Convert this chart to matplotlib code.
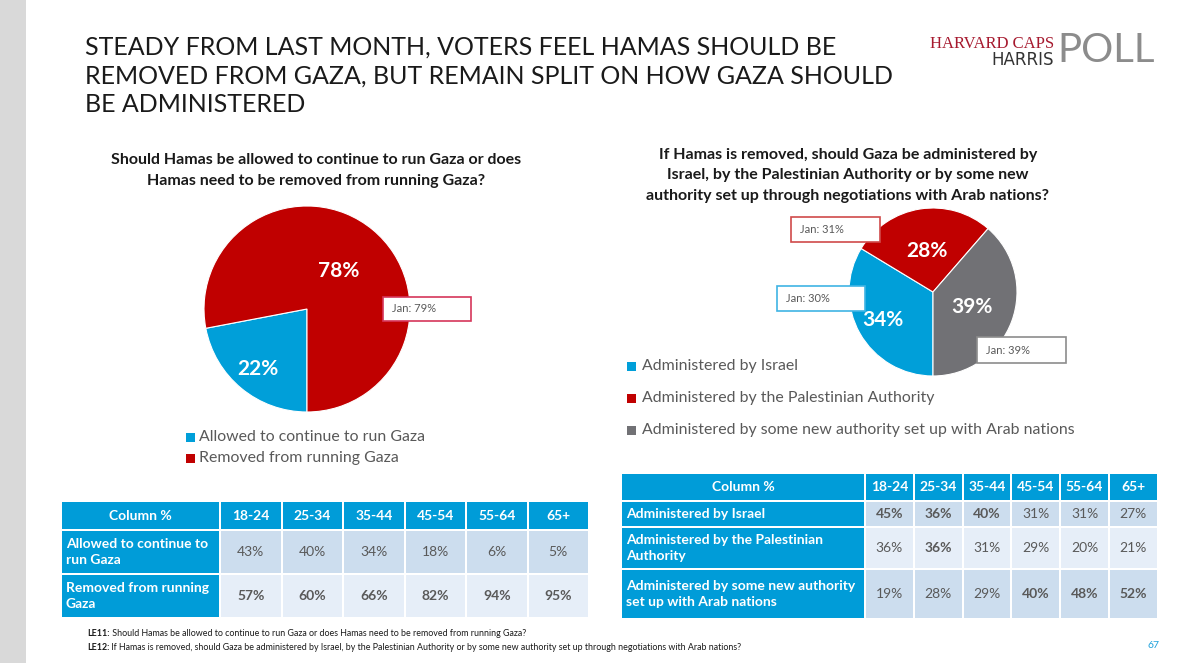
import matplotlib.pyplot as plt
from matplotlib.patches import Rectangle
import numpy as np

plt.rcParams['font.family'] = ['Lato', 'DejaVu Sans']

W, H = 1180, 663

RED = '#C00000'
BLUE = '#009FD9'
GRAY = '#717175'
HEAD = '#009CD8'
DARK_CELL = '#CCDDEE'
LIGHT_CELL = '#E6EEF8'
TXT = '#595959'

# pie data
hamas_labels = ['Allowed to continue to run Gaza', 'Removed from running Gaza']
hamas_pct = [22, 78]
hamas_jan = [None, 79]

admin_labels = ['Administered by Israel',
                'Administered by the Palestinian Authority',
                'Administered by some new authority set up with Arab nations']
admin_pct = [34, 28, 39]
admin_jan = [30, 31, 39]

# table data
ages = ['18-24', '25-34', '35-44', '45-54', '55-64', '65+']
hamas_rows = ['Allowed to continue to\nrun Gaza', 'Removed from running\nGaza']
hamas_by_age = [[43, 40, 34, 18, 6, 5],
                [57, 60, 66, 82, 94, 95]]
hamas_bold = [[0, 0, 0, 0, 0, 0],
              [1, 1, 1, 1, 1, 1]]
admin_rows = ['Administered by Israel',
              'Administered by the Palestinian\nAuthority',
              'Administered by some new authority\nset up with Arab nations']
admin_by_age = [[45, 36, 40, 31, 31, 27],
                [36, 36, 31, 29, 20, 21],
                [19, 28, 29, 40, 48, 52]]
admin_bold = [[1, 1, 1, 0, 0, 0],
              [0, 1, 0, 0, 0, 0],
              [0, 0, 0, 1, 1, 1]]

fig = plt.figure(figsize=(W / 100, H / 100), dpi=100)
fig.patch.set_facecolor('white')

# background axes in pixel coordinates
bg = fig.add_axes([0, 0, 1, 1])
bg.set_xlim(0, W)
bg.set_ylim(H, 0)
bg.axis('off')

bg.add_patch(Rectangle((0, 0), 26, H, color='#D9D9D9', lw=0))

# title
title_lines = ['STEADY FROM LAST MONTH, VOTERS FEEL HAMAS SHOULD BE',
               'REMOVED FROM GAZA, BUT REMAIN SPLIT ON HOW GAZA SHOULD',
               'BE ADMINISTERED']
for i, line in enumerate(title_lines):
    bg.text(85, 55 + i * 28.7, line, fontsize=18, color='#1a1a1a',
            va='baseline', ha='left')

# logo
bg.text(1054, 48, 'HARVARD CAPS', family='Liberation Serif', fontsize=12,
        color='#A6192E', ha='right', va='baseline')
bg.text(1054, 65, 'HARRIS', family='DejaVu Sans', fontsize=12,
        color='#333333', ha='right', va='baseline')
bg.text(1057, 62, 'POLL', fontsize=29, color='#8C8C8C', ha='left',
        va='baseline')

# subtitles
sub_left = ['Should Hamas be allowed to continue to run Gaza or does',
            'Hamas need to be removed from running Gaza?']
sub_right = ['If Hamas is removed, should Gaza be administered by',
             'Israel, by the Palestinian Authority or by some new',
             'authority set up through negotiations with Arab nations?']
for i, line in enumerate(sub_left):
    bg.text(316, 160 + i * 21, line, fontsize=11.5, weight='bold',
            ha='center', va='center', color='#1a1a1a')
for i, line in enumerate(sub_right):
    bg.text(848, 155 + i * 20.5, line, fontsize=11.5, weight='bold',
            ha='center', va='center', color='#1a1a1a')


def draw_pie(cx, cy, r, values, colors, label_r):
    pad = 1.03
    ax = fig.add_axes([(cx - r * pad) / W, 1 - (cy + r * pad) / H,
                       2 * r * pad / W, 2 * r * pad / H])
    wedges, _ = ax.pie(values, colors=colors, startangle=270,
                       counterclock=False,
                       wedgeprops=dict(edgecolor='white', linewidth=0.8))
    ax.set_xlim(-pad, pad)
    ax.set_ylim(-pad, pad)
    for w, v, d in zip(wedges, values, label_r):
        a = np.deg2rad((w.theta1 + w.theta2) / 2)
        ax.text(d * np.cos(a), d * np.sin(a), f'{v}%', color='white',
                fontsize=15, weight='bold', ha='center', va='center')
    return ax


draw_pie(307, 309, 103, hamas_pct, [BLUE, RED], [0.75, 0.48])
draw_pie(933, 292, 84, admin_pct, [BLUE, RED, GRAY], [0.68, 0.49, 0.5])

# overlay axes for the callouts, drawn above the pies
fg = fig.add_axes([0, 0, 1, 1])
fg.set_xlim(0, W)
fg.set_ylim(H, 0)
fg.axis('off')
fg.patch.set_alpha(0)


def jan_box(x, y, w, h, val, edge):
    fg.add_patch(Rectangle((x, y), w, h, facecolor='white', edgecolor=edge,
                           lw=1.2))
    fg.text(x + 9, y + h / 2, f'Jan: {val}%', fontsize=8, color=TXT,
            va='center', ha='left')


jan_box(383, 297, 88, 24, hamas_jan[1], '#D6365A')
jan_box(791, 217, 89, 25, admin_jan[1], '#D04A4A')
jan_box(777, 286, 88, 25, admin_jan[0], '#3FB4E4')
jan_box(977, 337, 89, 26, admin_jan[2], '#8C8C8C')

# legends
for i, (lab, col) in enumerate(zip(hamas_labels, [BLUE, RED])):
    y = 437 + i * 21
    bg.add_patch(Rectangle((186, y - 4.5), 9, 9, color=col, lw=0))
    bg.text(199, y, lab, fontsize=11.4, color=TXT, va='center')
for i, (lab, col) in enumerate(zip(admin_labels, [BLUE, RED, GRAY])):
    y = 366 + i * 32
    bg.add_patch(Rectangle((627, y - 4.5), 9, 9, color=col, lw=0))
    bg.text(642, y, lab, fontsize=11.4, color=TXT, va='center')


def draw_table(x0, first_w, pitch, y0, heights, rows, values, bold, shades):
    gap = 2
    # header
    hh = heights[0]
    bg.add_patch(Rectangle((x0, y0), first_w, hh, color=HEAD, lw=0))
    bg.text(x0 + first_w / 2, y0 + hh / 2, 'Column %', color='white',
            fontsize=10, weight='bold', ha='center', va='center')
    xs = [x0 + first_w + gap + j * pitch for j in range(len(ages))]
    for x, a in zip(xs, ages):
        bg.add_patch(Rectangle((x, y0), pitch - gap, hh, color=HEAD, lw=0))
        bg.text(x + (pitch - gap) / 2, y0 + hh / 2, a, color='white',
                fontsize=10, weight='bold', ha='center', va='center')
    y = y0 + hh + gap
    for i, rh in enumerate(heights[1:]):
        bg.add_patch(Rectangle((x0, y), first_w, rh, color=HEAD, lw=0))
        bg.text(x0 + 4, y + rh / 2, rows[i], color='white', fontsize=10,
                weight='bold', ha='left', va='center', linespacing=1.5)
        for j, x in enumerate(xs):
            bg.add_patch(Rectangle((x, y), pitch - gap, rh, color=shades[i],
                                   lw=0))
            bg.text(x + (pitch - gap) / 2, y + rh / 2,
                    f'{values[i][j]}%', color=TXT, fontsize=10,
                    weight='bold' if bold[i][j] else 'normal',
                    ha='center', va='center')
        y += rh + gap


draw_table(62, 157, 61.5, 502, [27, 42, 42], hamas_rows, hamas_by_age,
           hamas_bold, [DARK_CELL, LIGHT_CELL])
draw_table(622, 242, 48.8, 474, [26, 24, 40, 48], admin_rows, admin_by_age,
           admin_bold, [DARK_CELL, LIGHT_CELL, DARK_CELL])

# footnotes
notes = [('LE11:', ' Should Hamas be allowed to continue to run Gaza or does '
          'Hamas need to be removed from running Gaza?'),
         ('LE12:', ' If Hamas is removed, should Gaza be administered by '
          'Israel, by the Palestinian Authority or by some new authority set '
          'up through negotiations with Arab nations?')]
for i, (k, rest) in enumerate(notes):
    t = bg.text(87, 638 + i * 14, k, fontsize=6.4, weight='bold',
                color='#1a1a1a', va='bottom', ha='left')
    bg.annotate(rest, xy=(1, 0), xycoords=t, fontsize=6.4, color='#1a1a1a',
                va='bottom', ha='left')

bg.text(1160, 645, '67', fontsize=7.5, color='#1FA2DC', ha='right',
        va='center')

fig.savefig('out.png', dpi=100)
